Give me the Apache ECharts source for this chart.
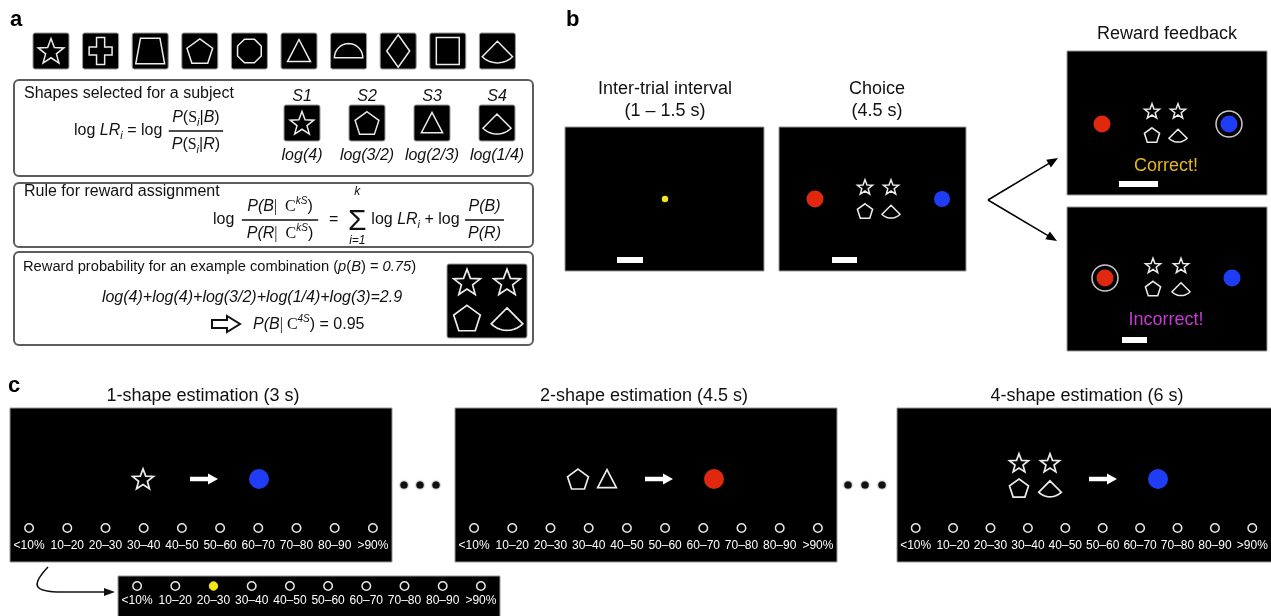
<!DOCTYPE html>
<html><head><meta charset="utf-8">
<script src="https://cdn.jsdelivr.net/npm/echarts@6/dist/echarts.min.js"></script>
<style>html,body{margin:0;padding:0;background:#fff}#c{width:1271px;height:616px}</style>
</head><body><div id="c"></div>
<script>
// ---------------- data ----------------
const shapeSet = ['star','cross','trapezoid','pentagon','octagon','triangle','semicircle','diamond','square','fan'];
const subjectLabels = ['S1','S2','S3','S4'];
const subjectShapes = ['star','pentagon','triangle','fan'];
const logLRLabels = ['log(4)','log(3/2)','log(2/3)','log(1/4)'];
const exampleCombo = ['star','star','pentagon','fan'];
const exampleSum = 'log(4)+log(4)+log(3/2)+log(1/4)+log(3)=2.9';
const examplePost = '0.95';
const examplePrior = '0.75';
const boxTitles = ['Shapes selected for a subject','Rule for reward assignment','Reward probability for an example combination '];
const trialTitles = [['Inter-trial interval','(1 – 1.5 s)'],['Choice','(4.5 s)']];
const feedbackTitle = 'Reward feedback';
const feedbackTexts = ['Correct!','Incorrect!'];
const estimationTitles = ['1-shape estimation (3 s)','2-shape estimation (4.5 s)','4-shape estimation (6 s)'];
const estimationShapes = [['star'],['pentagon','triangle'],['star','star','pentagon','fan']];
const estimationTargets = ['blue','red','blue'];
const ratingBins = ['<10%','10–20','20–30','30–40','40–50','50–60','60–70','70–80','80–90','>90%'];
const selectedBin = '20–30';

// ---------------- helpers ----------------
const FF = '"Liberation Sans", Arial, Helvetica, sans-serif';
const FS = '"Liberation Serif", "Times New Roman", serif';
const COL = {red:'#e0280f', blue:'#1f3df5', yellow:'#f5e61a', line:'#ececec', gold:'#e6b422', magenta:'#c93ad6'};
const cv = document.createElement('canvas').getContext('2d');
function fontStr(sz, it, serif, bold){ return (it?'italic ':'') + (bold?'bold ':'') + sz + 'px ' + (serif?FS:FF); }
function measure(t, f){ cv.font = f; return cv.measureText(t).width; }
const el = [];
function T(x, y, text, o){ o = o||{}; el.push({type:'text', x:x, y:y, z:o.z||30, silent:true,
  style:{text:text, font:fontStr(o.sz||16,o.it,o.serif,o.bold), fill:o.fill||'#111', textAlign:o.align||'left', textVerticalAlign:o.va||'middle'}}); }
function R(x, y, w, h, o){ o=o||{}; el.push({type:'rect', z:o.z||1, silent:true, shape:{x:x,y:y,width:w,height:h,r:o.r||0},
  style:{fill:o.fill||'#000', stroke:o.stroke||null, lineWidth:o.lw||1}}); }
function C(x, y, r, o){ el.push({type:'circle', z:o.z||12, silent:true, shape:{cx:x,cy:y,r:r},
  style:{fill:o.fill||'none', stroke:o.stroke||null, lineWidth:o.lw||1, shadowBlur:o.blur||0, shadowColor:o.fill}}); }
function runsWidth(parts, base){ return parts.reduce((s,p)=>s+measure(p.t, fontStr(p.sz||base,p.it,p.serif)),0); }
function runs(parts, x, y, base, align){
  base = base||16; const w = runsWidth(parts, base);
  let cx = align==='center' ? x - w/2 : x;
  parts.forEach(p=>{ const f = fontStr(p.sz||base,p.it,p.serif);
    T(cx, y+(p.dy||0), p.t, {sz:p.sz||base, it:p.it, serif:p.serif});
    cx += measure(p.t, f); });
  return cx;
}
function fraction(num, den, x, y, base, pad){
  const w = Math.max(runsWidth(num, base), runsWidth(den, base)) + (pad||4);
  el.push({type:'line', z:30, silent:true, shape:{x1:x,y1:y,x2:x+w,y2:y}, style:{stroke:'#111', lineWidth:1.3}});
  runs(num, x+w/2, y-13, base, 'center');
  runs(den, x+w/2, y+14, base, 'center');
  return x + w;
}
function shapePts(type, r){
  const P=[], PI=Math.PI;
  switch(type){
    case 'star': for(let i=0;i<10;i++){const rr=i%2?r*0.42:r, a=i*PI/5; P.push([rr*Math.sin(a), -rr*Math.cos(a)+0.08*r]);} break;
    case 'cross': {const w=0.3*r,h=r,v=0.85*r; P.push([-w,-h],[w,-h],[w,-w],[v,-w],[v,w],[w,w],[w,h],[-w,h],[-w,w],[-v,w],[-v,-w],[-w,-w]);} break;
    case 'trapezoid': P.push([-0.72*r,-0.95*r],[0.72*r,-0.95*r],[1.07*r,0.95*r],[-1.07*r,0.95*r]); break;
    case 'pentagon': for(let i=0;i<5;i++){const a=i*2*PI/5; P.push([r*Math.sin(a), -r*Math.cos(a)+0.1*r]);} break;
    case 'octagon': for(let i=0;i<8;i++){const a=PI/8+i*PI/4; P.push([0.95*r*Math.sin(a), -0.95*r*Math.cos(a)]);} break;
    case 'triangle': P.push([0,-0.85*r],[0.85*r,0.78*r],[-0.85*r,0.78*r]); break;
    case 'semicircle': for(let i=0;i<=24;i++){const a=PI+i*PI/24; P.push([1.05*r*Math.cos(a), 0.5*r+1.05*r*Math.sin(a)]);} break;
    case 'diamond': P.push([0,-1.2*r],[0.85*r,0],[0,1.2*r],[-0.85*r,0]); break;
    case 'square': P.push([-0.85*r,-r],[0.85*r,-r],[0.85*r,r],[-0.85*r,r]); break;
    case 'fan': {const R=1.6*r, th=0.78, ay=-0.72*r; P.push([0,ay]); for(let i=0;i<=20;i++){const a=PI/2-th+i*2*th/20; P.push([R*Math.cos(a), ay+R*Math.sin(a)]);}} break;
  }
  return P;
}
function S(type, cx, cy, r, lw){ el.push({type:'polygon', z:12, silent:true, shape:{points:shapePts(type,r).map(p=>[cx+p[0],cy+p[1]])},
  style:{fill:'none', stroke:COL.line, lineWidth:lw||1.5, lineJoin:'miter'}}); }
function tile(cx, cy, w, h){ R(cx-w/2, cy-h/2, w, h, {fill:'#000', stroke:'#9a9a9a', lw:1, r:2}); }
function cluster(cx, cy, dx, dy, r, lw){ exampleCombo.forEach((s,i)=>S(s, cx+(i%2?dx/2:-dx/2), cy+(i<2?-dy/2:dy/2), r, lw)); }
function arrowLine(x1,y1,x2,y2,hl,hw,color,lw){
  const a=Math.atan2(y2-y1,x2-x1), c=Math.cos(a), s=Math.sin(a), bx=x2-hl*c, by=y2-hl*s;
  el.push({type:'line', z:15, silent:true, shape:{x1:x1,y1:y1,x2:bx+c,y2:by+s}, style:{stroke:color,lineWidth:lw}});
  el.push({type:'polygon', z:15, silent:true, shape:{points:[[x2,y2],[bx-hw*s,by+hw*c],[bx+hw*s,by-hw*c]]}, style:{fill:color}});
}
function whiteArrow(x1, x2, y){ el.push({type:'polygon', z:12, silent:true, shape:{points:[[x1,y-2.3],[x2-10,y-2.3],[x2-10,y-5.5],[x2,y],[x2-10,y+5.5],[x2-10,y+2.3],[x1,y+2.3]]}, style:{fill:'#fff'}}); }

// ---------------- panel a ----------------
T(10, 20, 'a', {sz:22, bold:1, fill:'#000'});
shapeSet.forEach((s,i)=>{ const cx = 51 + i*49.6, cy = 51; tile(cx, cy, 36, 36); S(s, cx, cy, 13.5); });

// box 1
R(14, 80, 519, 96, {fill:'#fff', stroke:'#5c5c5c', lw:2, r:5});
T(24, 94, boxTitles[0]);
let xx = runs([{t:'log '},{t:'LR',it:1},{t:'i',it:1,sz:11,dy:5},{t:' = log '}], 74, 131, 16);
fraction([{t:'P',it:1},{t:'('},{t:'S',serif:1},{t:'i',it:1,sz:11,dy:5},{t:'|'},{t:'B',it:1},{t:')'}],
         [{t:'P',it:1},{t:'('},{t:'S',serif:1},{t:'i',it:1,sz:11,dy:5},{t:'|'},{t:'R',it:1},{t:')'}], xx+2, 131, 16, 6);
const subjX = [302, 367, 432, 497];
subjectShapes.forEach((s,i)=>{ T(subjX[i], 97, subjectLabels[i], {it:1, align:'center'}); tile(subjX[i], 123, 36, 36); S(s, subjX[i], 123, 12.5); T(subjX[i], 156, logLRLabels[i], {it:1, align:'center'}); });

// box 2
R(14, 183, 519, 64, {fill:'#fff', stroke:'#5c5c5c', lw:2, r:5});
T(24, 192, boxTitles[1]);
xx = runs([{t:'log '}], 213, 220, 16);
xx = fraction([{t:'P',it:1},{t:'(B',it:1},{t:'|  C',serif:1},{t:'kS',it:1,sz:10,dy:-6},{t:')'}],
              [{t:'P',it:1},{t:'(R',it:1},{t:'|  C',serif:1},{t:'kS',it:1,sz:10,dy:-6},{t:')'}], xx+3, 220, 16, 10);
xx = runs([{t:'  =  '}], xx+2, 220, 16);
T(xx+10, 222, 'Σ', {sz:30, align:'center'});
T(xx+10, 192, 'k', {sz:12, it:1, align:'center'});
T(xx+10, 241, 'i=1', {sz:12, it:1, align:'center'});
xx = runs([{t:'log '},{t:'LR',it:1},{t:'i',it:1,sz:11,dy:5},{t:' + log '}], xx+24, 220, 16);
fraction([{t:'P(B)',it:1}], [{t:'P(R)',it:1}], xx+1, 220, 16, 6);

// box 3
R(14, 252, 519, 93, {fill:'#fff', stroke:'#5c5c5c', lw:2, r:5});
xx = runs([{t:boxTitles[2]}], 23, 267, 14.7);
runs([{t:'('},{t:'p',it:1},{t:'('},{t:'B',it:1},{t:') = '},{t:examplePrior,it:1},{t:')'}], xx, 267, 14.7);
T(252, 298, exampleSum, {it:1, align:'center'});
el.push({type:'polygon', z:30, silent:true, shape:{points:[[212,320],[227,320],[227,316],[240,324],[227,332],[227,328],[212,328]]}, style:{fill:'none', stroke:'#111', lineWidth:2}});
runs([{t:'P',it:1},{t:'(B',it:1},{t:'| C',serif:1},{t:'4S',it:1,sz:10,dy:-6},{t:') = '+examplePost}], 253, 325, 16);
tile(487, 301, 80, 74);
cluster(487, 300, 40, 36, 14, 1.7);

// ---------------- panel b ----------------
T(566, 20, 'b', {sz:22, bold:1, fill:'#000'});
[[665, 565, 199], [877, 779, 187]].forEach((p,i)=>{ T(p[0], 89, trialTitles[i][0], {sz:18, align:'center'}); T(p[0], 111, trialTitles[i][1], {sz:18, align:'center'}); R(p[1], 127, p[2], 144, {fill:'#000', stroke:'#999', lw:1}); });
C(665, 199, 3.2, {fill:COL.yellow});
R(617, 257, 26, 6, {fill:'#fff'});
C(815, 199, 8.5, {fill:COL.red});
C(942, 199, 8, {fill:COL.blue});
cluster(878, 199, 26, 24, 8, 1.5);
R(832, 257, 25, 6, {fill:'#fff'});
arrowLine(988, 200, 1058, 158, 11, 4.5, '#000', 1.5);
arrowLine(988, 200, 1057, 241, 11, 4.5, '#000', 1.5);
T(1167, 34, feedbackTitle, {sz:18, align:'center'});
// correct
R(1067, 51, 200, 144, {fill:'#000', stroke:'#999', lw:1});
C(1102, 124, 8.5, {fill:COL.red});
C(1229, 124, 8.5, {fill:COL.blue});
C(1229, 124, 13, {stroke:'#c8c8c8', lw:1.5});
cluster(1165, 123, 26, 24, 8, 1.5);
T(1166, 166, feedbackTexts[0], {sz:18, align:'center', fill:COL.gold});
R(1119, 181, 39, 6, {fill:'#fff'});
// incorrect
R(1067, 207, 200, 144, {fill:'#000', stroke:'#999', lw:1});
C(1105, 278, 8.5, {fill:COL.red});
C(1105, 278, 13, {stroke:'#c8c8c8', lw:1.5});
C(1232, 278, 8.5, {fill:COL.blue});
cluster(1167, 277, 28, 23, 8, 1.5);
T(1166, 320, feedbackTexts[1], {sz:18, align:'center', fill:COL.magenta});
R(1122, 337, 25, 6, {fill:'#fff'});

// ---------------- panel c ----------------
T(8, 386, 'c', {sz:22, bold:1, fill:'#000'});
const estRects = [[10, 382], [455, 382], [897, 384]];
const estTitleX = [203, 644, 1087];
estRects.forEach((r,i)=>{ T(estTitleX[i], 396, estimationTitles[i], {sz:18, align:'center'}); R(r[0], 408, r[1], 154, {fill:'#000', stroke:'#999', lw:1}); });
S(estimationShapes[0][0], 143, 479, 11, 1.7);
whiteArrow(190, 218, 479);
C(259, 479, 10, {fill:COL[estimationTargets[0]]});
S(estimationShapes[1][0], 578, 479, 11, 1.7);
S(estimationShapes[1][1], 607, 479, 11, 1.7);
whiteArrow(645, 673, 479);
C(714, 479, 10, {fill:COL[estimationTargets[1]]});
estimationShapes[2].forEach((s,i)=>S(s, 1019 + (i%2)*31, (i<2?463:488), 10, 1.7));
whiteArrow(1089, 1117, 479);
C(1158, 479, 10, {fill:COL[estimationTargets[2]]});
[404, 420, 436, 848, 865, 882].forEach(x=>C(x, 485, 3.6, {fill:'#111', blur:2}));
R(118, 576, 382, 45, {fill:'#000', stroke:'#999', lw:1});
el.push({type:'bezierCurve', z:15, silent:true, shape:{x1:48,y1:567,cpx1:30,cpy1:586,cpx2:34,cpy2:592,x2:62,y2:592}, style:{stroke:'#111', lineWidth:1.6, fill:'none'}});
arrowLine(62, 592, 115, 592, 11, 4, '#111', 1.6);

// ---------------- rating scales (scatter on category axes) ----------------
const scaleGrids = [
  {left:10, width:382, top:523, height:10, margin:7},
  {left:455, width:382, top:523, height:10, margin:7},
  {left:897, width:383, top:523, height:10, margin:7},
  {left:118, width:382, top:581, height:10, margin:4}
];
const option = {
  animation:false,
  backgroundColor:'#fff',
  grid: scaleGrids.map(g=>({left:g.left, width:g.width, top:g.top, height:g.height, containLabel:false})),
  xAxis: scaleGrids.map((g,i)=>({gridIndex:i, type:'category', data:ratingBins, boundaryGap:true, z:40,
    axisLine:{show:false}, axisTick:{show:false}, splitLine:{show:false},
    axisLabel:{interval:0, color:'#fff', fontSize:12, fontFamily:FF, margin:g.margin, lineHeight:12, hideOverlap:false}})),
  yAxis: scaleGrids.map((g,i)=>({gridIndex:i, type:'value', min:0, max:1, show:false})),
  series: scaleGrids.map((g,i)=>({type:'scatter', xAxisIndex:i, yAxisIndex:i, z:40, silent:true, symbol:'circle', symbolSize:8.5,
    data: ratingBins.map(b=>({value:[b,0.5], itemStyle: (i===3 && b===selectedBin) ? {color:COL.yellow, borderColor:COL.yellow, borderWidth:1, opacity:1} : {color:'#000', borderColor:'#e6e6e6', borderWidth:1.5, opacity:1}}))})),
  graphic:{elements: el}
};
echarts.init(document.getElementById('c')).setOption(option);
</script></body></html>
